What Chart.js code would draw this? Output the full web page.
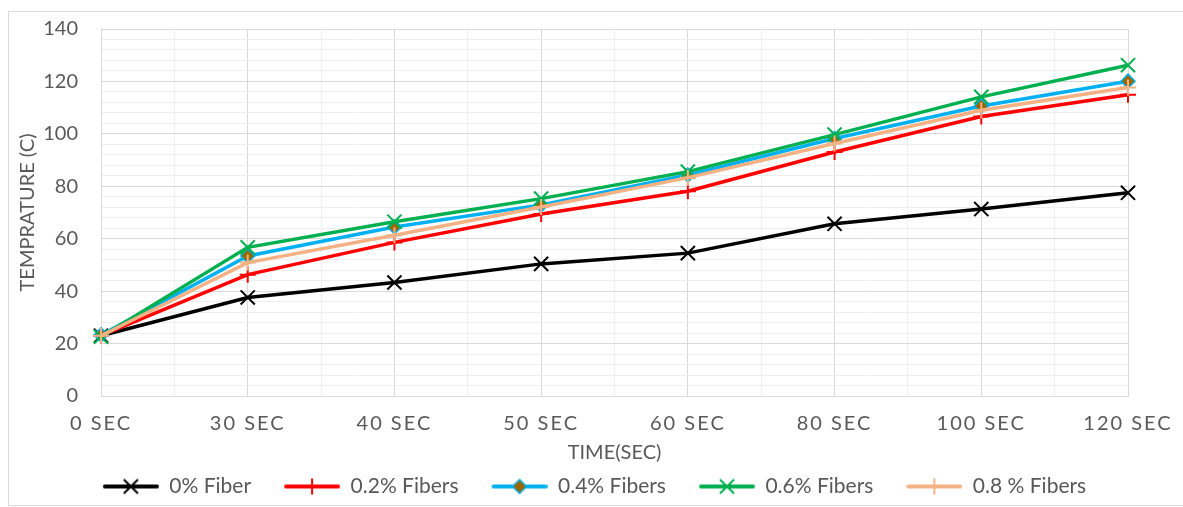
<!DOCTYPE html>
<html><head><meta charset="utf-8">
<script src="https://cdn.jsdelivr.net/npm/chart.js@4/dist/chart.umd.min.js"></script>
<style>
html,body{margin:0;padding:0;background:#fff;overflow:hidden;}
#wrap{position:relative;width:1183px;height:507px;}
#frame{position:absolute;left:8px;top:11px;width:1300px;height:495px;border:1px solid #d9d9d9;box-sizing:border-box;}
canvas{position:absolute;left:0;top:0;}
</style></head>
<body><div id="wrap"><div id="frame"></div><canvas id="c" width="1183" height="507"></canvas></div>
<script>
const categories = ['0 SEC','30 SEC','40 SEC','50 SEC','60 SEC','80 SEC','100 SEC','120 SEC'];
const fiber0  = [23, 37.6, 43.3, 50.4, 54.5, 65.7, 71.3, 77.5];
const fiber02 = [23, 46.3, 58.6, 69.4, 78.1, 93.1, 106.6, 114.9];
const fiber04 = [23.3, 53.4, 64.5, 72.9, 84.3, 98.2, 110.6, 120.1];
const fiber06 = [22.6, 56.7, 66.5, 75.3, 85.6, 99.7, 114.1, 126.2];
const fiber08 = [23, 50.9, 61.3, 72.1, 83.3, 96.3, 109.0, 117.7];
const seriesNames = ['0% Fiber','0.2% Fibers','0.4% Fibers','0.6% Fibers','0.8 % Fibers'];
const yTickLabels = [0,20,40,60,80,100,120,140];
const xTitle = 'TIME(SEC)';
const yTitle = 'TEMPRATURE (C)';

const FONT = 'Lato, "Open Sans", sans-serif';
const TXT = '#595959';

const styles = [
  {color:'#000000', point:'crossRot', r:10, pw:2, fill:'#000000'},
  {color:'#ff0000', point:'cross', r:8, pw:2, fill:'#ff0000'},
  {color:'#00b0f0', point:'rectRot', r:7, pw:1.5, fill:'#996600'},
  {color:'#00b050', point:'crossRot', r:10, pw:2, fill:'#00b050'},
  {color:'#f4b183', point:'cross', r:8, pw:2, fill:'#f4b183'}
];
const values = [fiber0, fiber02, fiber04, fiber06, fiber08];

const LEG_GAP = 23, LEG_LINE = 56;
function legendImage(st){
  const cv = document.createElement('canvas');
  cv.width = LEG_GAP + LEG_LINE; cv.height = 24;
  const g = cv.getContext('2d');
  g.strokeStyle = st.color; g.lineWidth = 4; g.lineCap = 'round';
  g.beginPath(); g.moveTo(LEG_GAP+2,12); g.lineTo(LEG_GAP+LEG_LINE-2,12); g.stroke();
  const opts = {pointStyle: st.point, radius: st.r, borderWidth: st.pw};
  g.fillStyle = st.fill; g.strokeStyle = st.color; g.lineWidth = st.pw; g.lineCap = 'butt';
  if (Chart.helpers && Chart.helpers.drawPoint) {
    Chart.helpers.drawPoint(g, opts, LEG_GAP + LEG_LINE/2, 12);
  }
  return cv;
}

const datasets = values.map((v,i)=>({
  label: seriesNames[i],
  data: v,
  borderColor: styles[i].color,
  backgroundColor: styles[i].fill,
  borderWidth: 3.5,
  pointStyle: styles[i].point,
  pointRadius: styles[i].r,
  pointBorderWidth: styles[i].pw,
  pointBorderColor: styles[i].color,
  pointBackgroundColor: styles[i].fill,
  pointHoverRadius: styles[i].r,
  order: values.length - i,
  tension: 0,
  fill: false
}));

const tweakPlugin = {
  id:'tweak',
  afterLayout(chart){
    if (chart.legend){ chart.legend.left += 14; chart.legend.right += 14; }
  },
  beforeDraw(chart){
    const s = chart.scales.x;
    if (s && !s._patched){
      const orig = s.drawLabels;
      s.drawLabels = function(a){
        const c = this.ctx; c.save();
        try { c.letterSpacing = '2px'; } catch(e){}
        orig.call(this,a); c.restore();
      };
      s._patched = true;
    }
  }
};

new Chart(document.getElementById('c'), {
  type:'line',
  data:{labels: categories, datasets},
  plugins:[tweakPlugin],
  options:{
    responsive:false,
    animation:false,
    layout:{padding:{left:10,right:55,top:29,bottom:0}},
    plugins:{
      tooltip:{enabled:false},
      legend:{
        position:'bottom',
        labels:{
          font:{family:FONT,size:21},
          color:TXT,
          usePointStyle:true,
          pointStyleWidth:LEG_GAP + LEG_LINE,
          boxHeight:21,
          padding:10,
          sort:(a,b)=>a.datasetIndex-b.datasetIndex,
          generateLabels(chart){
            return chart.data.datasets.map((d,i)=>({
              text:d.label, datasetIndex:i, pointStyle:legendImage(styles[i]),
              fillStyle:styles[i].fill, strokeStyle:styles[i].color, lineWidth:0, hidden:false,
              fontColor:TXT
            }));
          }
        }
      }
    },
    scales:{
      x:{
        type:'category',
        offset:false,
        grid:{color:'#d9d9d9', lineWidth:1, drawTicks:false},
        border:{color:'#d9d9d9'},
        ticks:{font:{family:FONT,size:20}, color:TXT, padding:16, maxRotation:0, autoSkip:false},
        title:{display:true, text:xTitle, font:{family:FONT,size:20}, color:TXT, padding:{top:1,bottom:1}},
        afterFit(s){ s.height = 70; }
      },
      xm:{
        type:'linear', position:'top', min:0, max:7,
        ticks:{display:false, stepSize:0.5},
        grid:{drawTicks:false, color:(c)=> (c.tick && c.tick.value % 1 !== 0) ? '#efefef' : 'rgba(0,0,0,0)'},
        border:{display:false},
        afterFit(s){ s.height = 0; }
      },
      y:{
        min:0, max:140,
        grid:{drawTicks:true, tickLength:23, tickColor:'rgba(0,0,0,0)',
          color:(c)=> (c.tick && yTickLabels.includes(c.tick.value)) ? '#d9d9d9' : '#efefef'},
        border:{color:'#d9d9d9'},
        ticks:{stepSize:4, font:{family:FONT,size:20}, color:TXT, padding:0, autoSkip:false,
          callback:(v)=> yTickLabels.includes(v) ? String(v) : ''},
        title:{display:true, text:yTitle, font:{family:FONT,size:20}, color:TXT, padding:{top:6,bottom:6}},
        afterFit(s){ s.width = 91; }
      }
    }
  }
});
</script>
</body></html>
